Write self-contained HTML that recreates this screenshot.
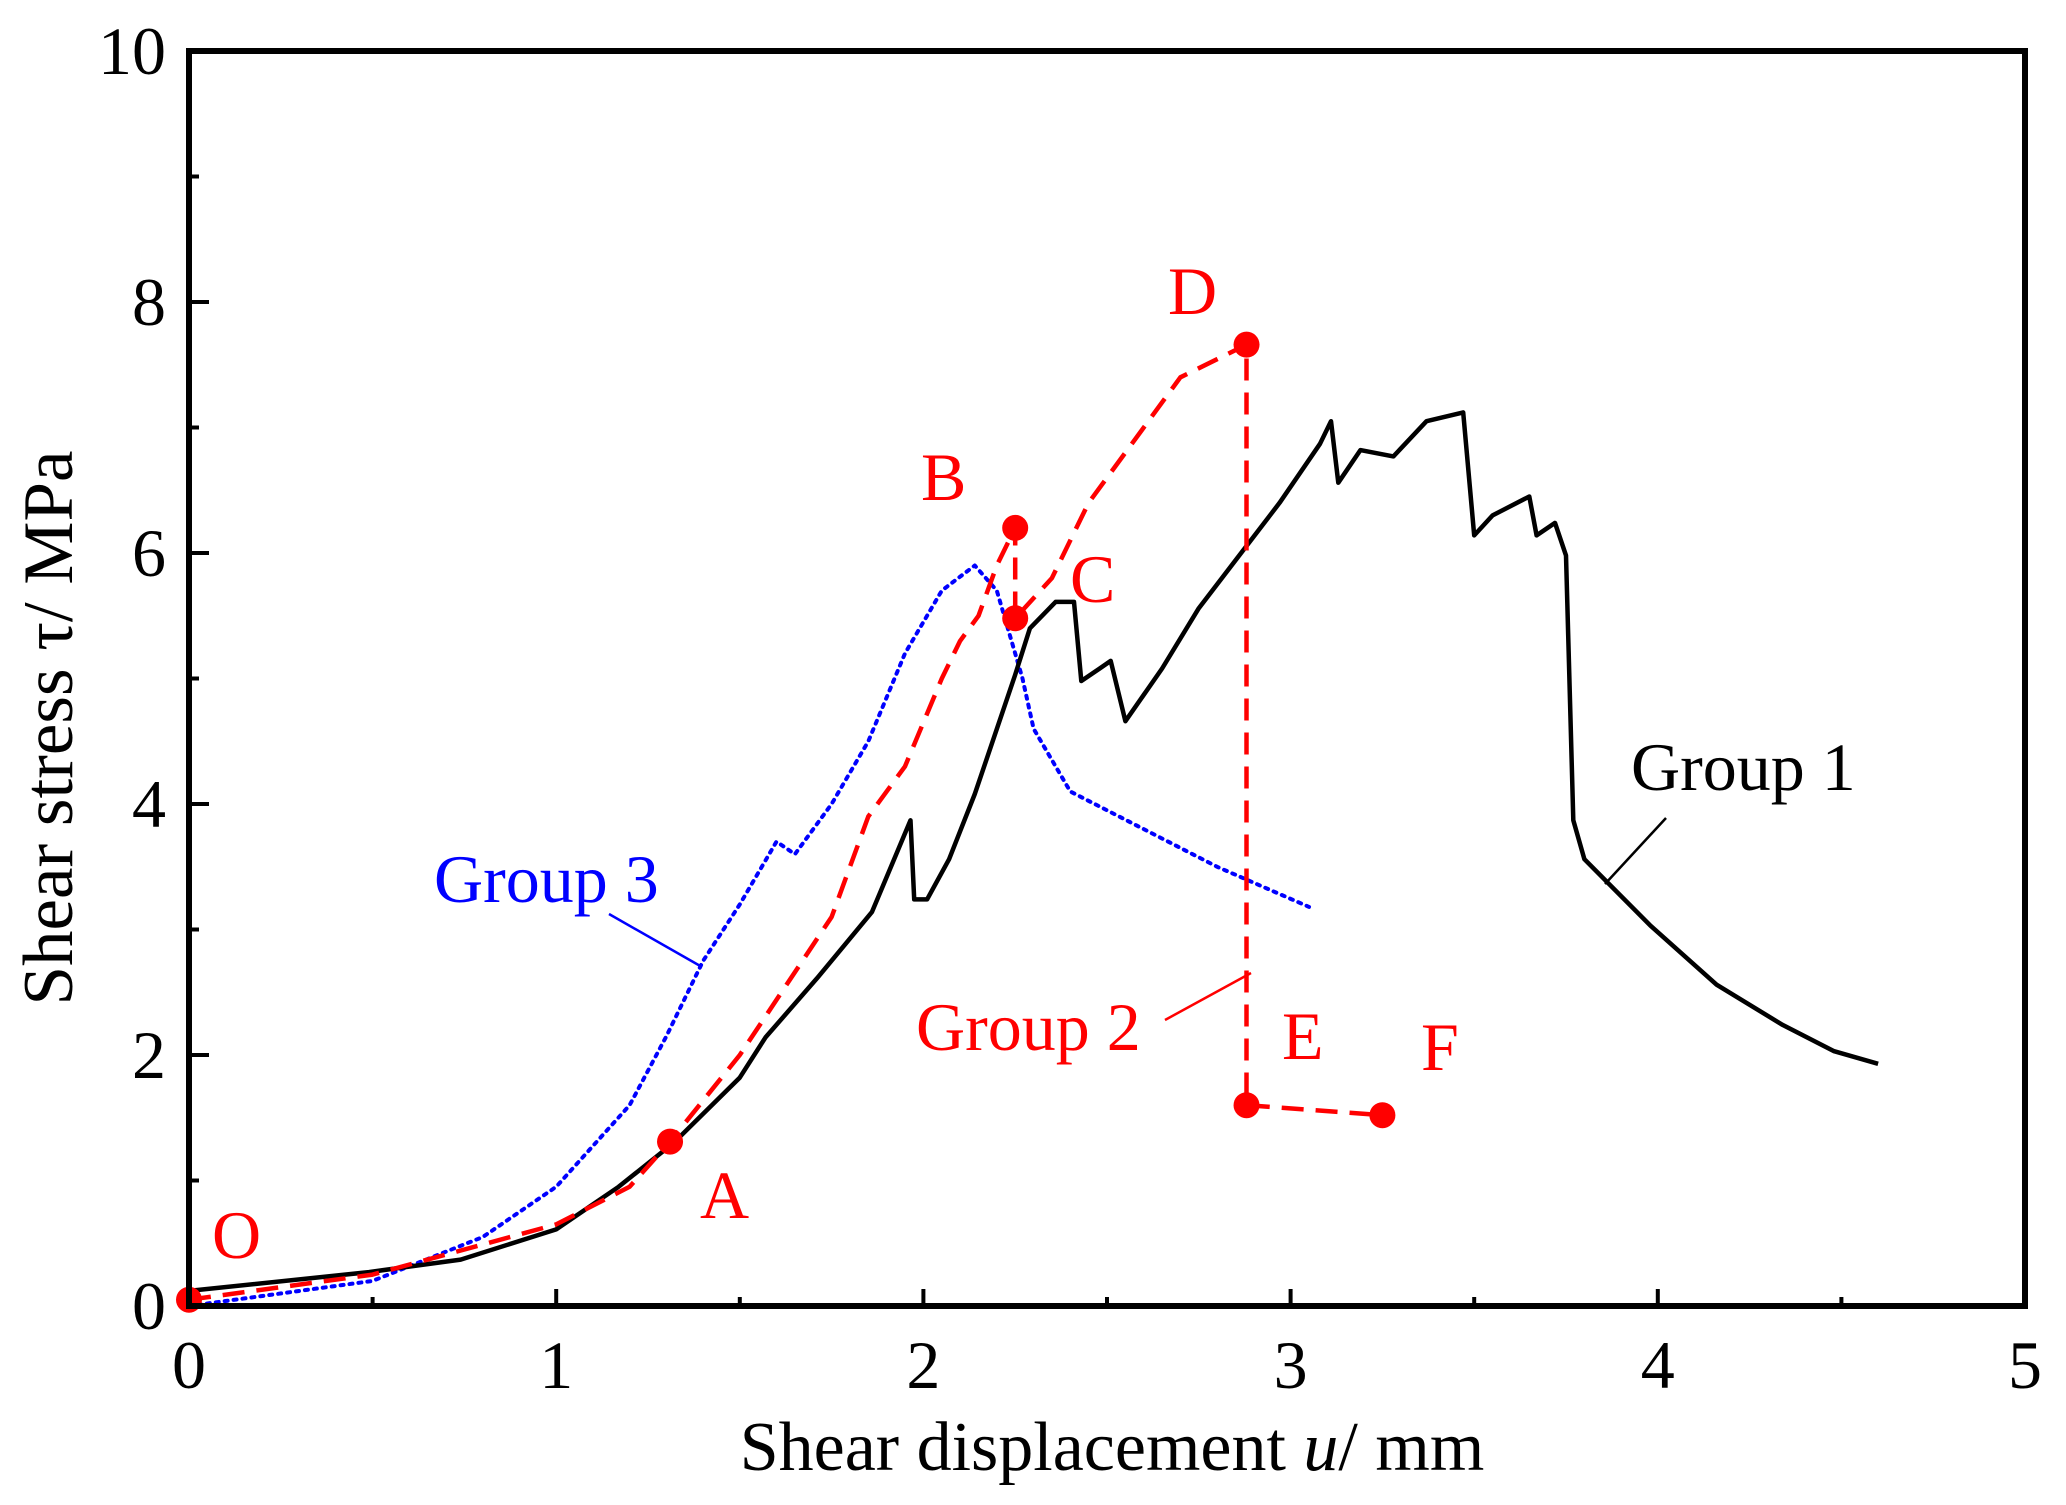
<!DOCTYPE html>
<html><head><meta charset="utf-8"><style>
html,body{margin:0;padding:0;background:#fff;}
svg{display:block;font-family:"Liberation Serif",serif;}
</style></head><body>
<svg id="c" width="2066" height="1505" viewBox="0 0 2066 1505"></svg>
<script>
const xTicks=[0,1,2,3,4,5];
const yTicks=[0,2,4,6,8,10];
const g1x=[0,0.49,0.74,1.0,1.17,1.32,1.5,1.57,1.71,1.86,1.965,1.975,2.01,2.07,2.14,2.25,2.29,2.36,2.41,2.43,2.48,2.51,2.55,2.65,2.75,2.86,2.97,3.08,3.11,3.13,3.19,3.28,3.37,3.47,3.5,3.55,3.65,3.67,3.72,3.75,3.77,3.8,3.98,4.16,4.34,4.48,4.6];
const g1y=[0.12,0.27,0.37,0.61,0.95,1.3,1.82,2.14,2.61,3.14,3.87,3.24,3.24,3.56,4.08,5.03,5.4,5.61,5.61,4.98,5.08,5.14,4.66,5.08,5.56,5.98,6.4,6.87,7.05,6.56,6.82,6.77,7.05,7.12,6.14,6.3,6.45,6.14,6.24,5.98,3.87,3.56,3.03,2.56,2.24,2.03,1.93];
const g2x=[0,0.5,1.0,1.2,1.31,1.5,1.75,1.85,1.95,2.05,2.1,2.15,2.2,2.25,2.25,2.35,2.45,2.55,2.7,2.88,2.88,3.25];
const g2y=[0.05,0.25,0.65,0.95,1.31,2.0,3.1,3.9,4.3,5.0,5.3,5.5,5.9,6.2,5.48,5.8,6.4,6.8,7.4,7.66,1.6,1.52];
const g3x=[0,0.5,0.8,1.0,1.2,1.3,1.4,1.5,1.6,1.65,1.75,1.85,1.95,2.05,2.14,2.2,2.27,2.3,2.4,2.6,2.8,3.05];
const g3y=[0,0.2,0.55,0.95,1.6,2.15,2.75,3.2,3.7,3.6,4.0,4.5,5.2,5.7,5.9,5.7,5.0,4.6,4.1,3.8,3.5,3.18];
const ptNames=["O","A","B","C","D","E","F"];
const ptX=[0,1.31,2.25,2.25,2.88,2.88,3.25];
const ptY=[0.05,1.31,6.2,5.48,7.66,1.6,1.52];

const L=189,R=2025,T=51,B=1306;
const sx=v=>L+(R-L)*v/5, sy=v=>B-(B-T)*v/10;
const svg=document.getElementById('c');
const NS='http://www.w3.org/2000/svg';
function mk(tag,attrs){const e=document.createElementNS(NS,tag);for(const k in attrs)e.setAttribute(k,attrs[k]);svg.appendChild(e);return e;}
function txt(x,y,s,fill,anchor,size){const t=mk('text',{x:x,y:y,fill:fill,'text-anchor':anchor,'font-size':size});t.textContent=s;return t;}

xTicks.forEach(v=>{const l=mk('line',{x1:sx(v),x2:sx(v),y1:B,y2:B-17,stroke:'#000','stroke-width':4});


const t=txt(sx(v),1388,String(v),'#000','middle',68);


if(v<5){const m=mk('line',{x1:sx(v+0.5),x2:sx(v+0.5),y1:B,y2:B-9,stroke:'#000','stroke-width':4});

}});
yTicks.forEach(v=>{const l=mk('line',{x1:L,x2:L+20,y1:sy(v),y2:sy(v),stroke:'#000','stroke-width':4});


const t=txt(166,sy(v)+23,String(v),'#000','end',68);


if(v<10){const m=mk('line',{x1:L,x2:L+10,y1:sy(v+1),y2:sy(v+1),stroke:'#000','stroke-width':4});

}});

function series(xs,ys,color,dash,w,name){const d=xs.map((x,i)=>(i?'L':'M')+sx(x).toFixed(1)+','+sy(ys[i]).toFixed(1)).join(' ');
const p=mk('path',{d:d,fill:'none',stroke:color,'stroke-width':w,'stroke-dasharray':dash,'stroke-linejoin':'round','stroke-linecap':dash==='3 6'?'round':'butt'});

}
series(g3x,g3y,'#0000ff','3 6',4,'group-3-line');
series(g1x,g1y,'#000','none',4.5,'group-1-line');
series(g2x,g2y,'#ff0000','22 12',4.5,'group-2-line');

ptNames.forEach((n,i)=>{const c=mk('circle',{cx:sx(ptX[i]),cy:sy(ptY[i]),r:13,fill:'#ff0000'});

});
const labPos=[[212,1258],[700,1218],[921,500],[1070,602],[1168,314],[1282,1059],[1421,1070]];
ptNames.forEach((n,i)=>{const t=txt(labPos[i][0],labPos[i][1],n,'#ff0000','start',68);

});

const f=mk('rect',{x:L,y:T,width:R-L,height:B-T,fill:'none',stroke:'#000','stroke-width':6});



function ann(text,color,x,y,x1,y1,x2,y2,name){const t=txt(x,y,text,color,'start',68);


const l=mk('line',{x1:x1,y1:y1,x2:x2,y2:y2,stroke:color,'stroke-width':2.5});

}
ann('Group 1','#000',1631,790,1666,818,1605,884,'group-1');
ann('Group 3','#0000ff',434,902,609,914,702,967,'group-3');
ann('Group 2','#ff0000',916,1050,1165,1020,1251,973,'group-2');

const xt=txt(1112,1470,'','#000','middle',70);
xt.innerHTML='Shear displacement <tspan font-style="italic">u</tspan>/ mm';


const yt=txt(0,0,'Shear stress τ/ MPa','#000','middle',71);
yt.setAttribute('transform','translate(72,728) rotate(-90)');


</script>
</body></html>
